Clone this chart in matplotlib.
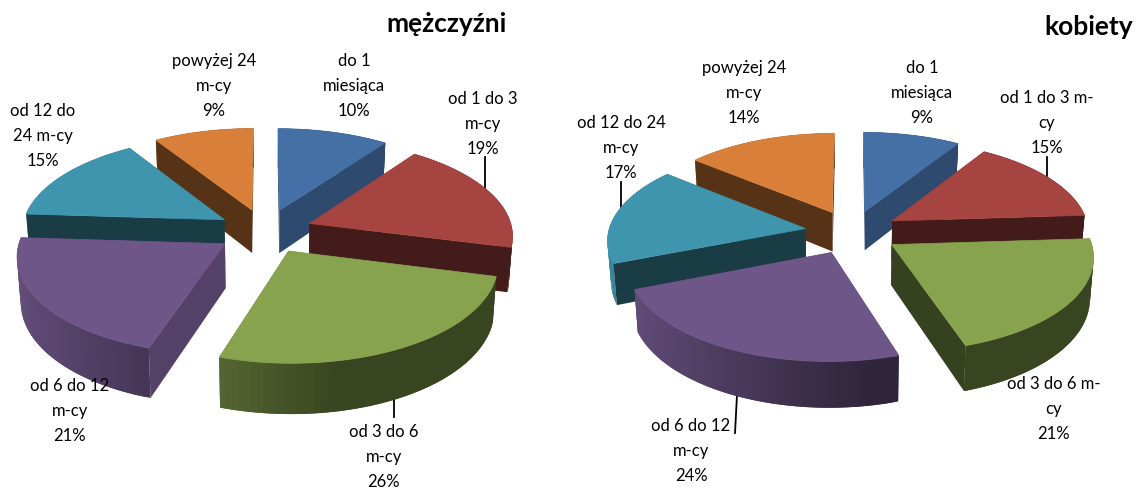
import numpy as np
import matplotlib
matplotlib.use('Agg')
import matplotlib.pyplot as plt

plt.rcParams['font.family'] = ['Lato', 'DejaVu Sans']

# dane
men_values = [10, 19, 26, 21, 15, 9]
women_values = [9, 15, 21, 24, 17, 14]
men_labels = ['do 1\nmiesiąca\n10%', 'od 1 do 3\nm-cy\n19%', 'od 3 do 6\nm-cy\n26%',
              'od 6 do 12\nm-cy\n21%', 'od 12 do\n24 m-cy\n15%', 'powyżej 24\nm-cy\n9%']
women_labels = ['do 1\nmiesiąca\n9%', 'od 1 do 3 m-\ncy\n15%', 'od 3 do 6 m-\ncy\n21%',
                'od 6 do 12\nm-cy\n24%', 'od 12 do 24\nm-cy\n17%', 'powyżej 24\nm-cy\n14%']

colors = ['#4470A6', '#A64441', '#87A34E', '#6F5689', '#3F95AD', '#D8803A']
cut_shade = [0.67, 0.40, 0.40, 0.75, 0.40, 0.40]

men_label_pos = [(354, 86), (483, 124), (384, 457), (70, 411), (43, 136), (214, 86)]
women_label_pos = [(922, 93), (1047, 123), (1054, 409), (691, 451), (621, 148), (744, 93)]
men_leaders = [((485, 157), (485, 192)), ((394, 395), (394, 417))]
women_leaders = [((1047, 157), (1047, 177)), ((621, 182), (621, 213)), ((737, 395), (735, 433))]


def project(u, v, p):
    s = p['d'] / (p['d'] + v)
    return p['cx'] + p['rx'] * u * s, p['cy'] - p['ry'] * v * s, s


def lower(x, y, s, p):
    # dolna krawedz - troche do srodka, perspektywa
    return p['cx'] + (x - p['cx']) * 0.985, y + p['depth'] * s


def shade(c, f):
    return tuple(np.array(matplotlib.colors.to_rgb(c)) * f)


def draw_slice(ax, a0, a1, col, cut, p):
    mid = (a0 + a1) / 2
    ou = p['ex'] * np.sin(mid)
    ov = p['ex'] * np.cos(mid)
    ang = np.linspace(a0, a1, 60)
    us = ou + np.sin(ang)
    vs = ov + np.cos(ang)
    x, y, s = project(us, vs, p)
    ax_, ay, aps = project(ou, ov, p)
    bx, by = lower(x, y, s, p)
    abx, aby = lower(ax_, ay, aps, p)
    # z tylu sciany ciecia zaslaniaja zewnetrzna, z przodu odwrotnie
    z_outer = p['z'] + 0.2 if np.cos(mid) < 0 else p['z']
    z_cut = p['z'] if np.cos(mid) < 0 else p['z'] + 0.2
    # sciana zewnetrzna, paski zachodza na siebie zeby nie bylo szwow
    for i in range(len(ang) - 1):
        j = min(i + 2, len(ang) - 1)
        nx = np.sin((ang[i] + ang[i + 1]) / 2)
        f = max(0.42, 0.5 - 0.4 * nx)
        ax.fill([x[i], x[j], bx[j], bx[i]], [y[i], y[j], by[j], by[i]],
                color=shade(col, f), lw=0, zorder=z_outer)
    # sciany ciecia
    for i in [0, -1]:
        ax.fill([ax_, x[i], bx[i], abx], [ay, y[i], by[i], aby], color=shade(col, cut), lw=0, zorder=z_cut)
    ax.fill(np.r_[ax_, x], np.r_[ay, y], color=col, lw=0.5, zorder=p['z'] + 0.5)


def draw_pie(ax, values, p):
    edges = np.r_[0, np.cumsum(values)] / np.sum(values) * 2 * np.pi
    mids = (edges[:-1] + edges[1:]) / 2
    order = np.argsort(-np.cos(mids))
    for n, i in enumerate(order):
        q = dict(p, z=3 + n)
        draw_slice(ax, edges[i], edges[i + 1], colors[i], cut_shade[i], q)


fig = plt.figure(figsize=(11.4, 4.88), dpi=100)
ax = fig.add_axes([0, 0, 1, 1])
ax.set_xlim(0, 1140)
ax.set_ylim(488, 0)
ax.axis('off')

for a, b in men_leaders + women_leaders:
    ax.plot([a[0], b[0]], [a[1], b[1]], color='black', lw=1.3, zorder=2)

draw_pie(ax, men_values, dict(cx=265, cy=231, rx=203, ry=95, d=9.0, ex=0.235, depth=44))
draw_pie(ax, women_values, dict(cx=852, cy=232, rx=197, ry=92, d=9.0, ex=0.24, depth=40))

for t, pos in zip(men_labels + women_labels, men_label_pos + women_label_pos):
    ax.text(pos[0], pos[1], t, ha='center', va='center', fontsize=12, linespacing=1.7, color='black', zorder=30)

ax.text(507, 24, 'mężczyźni', ha='right', va='center', fontsize=19, fontweight='bold', zorder=30)
ax.text(1133, 27, 'kobiety', ha='right', va='center', fontsize=19, fontweight='bold', zorder=30)

fig.savefig('out.png', dpi=100)
